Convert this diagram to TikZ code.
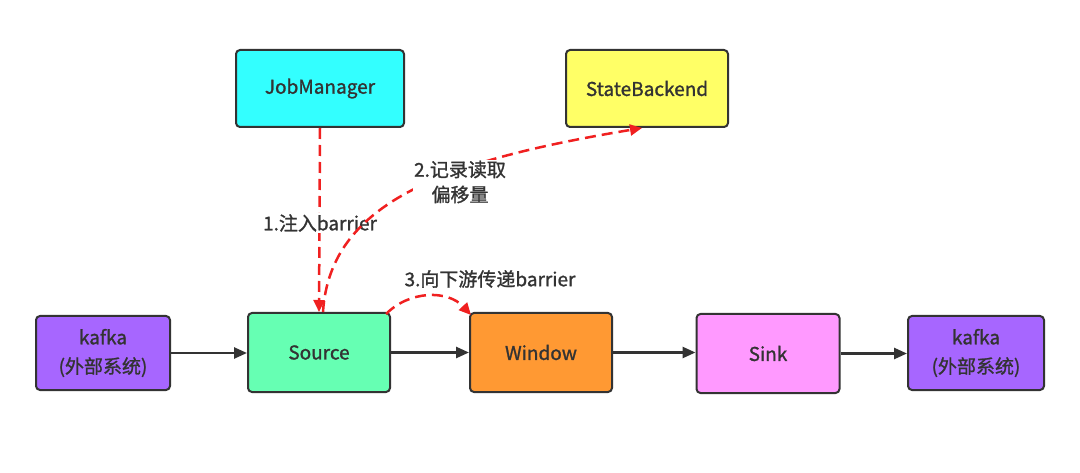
\documentclass[tikz,border=0pt]{standalone}
\usepackage{fontspec}
\setmainfont{Noto Sans CJK SC}[FakeBold=1.2]
\usetikzlibrary{arrows.meta}
\definecolor{txt}{HTML}{333333}
\definecolor{cyanbox}{HTML}{33FFFF}
\definecolor{yellowbox}{HTML}{FFFF66}
\definecolor{purplebox}{HTML}{A766FF}
\definecolor{greenbox}{HTML}{66FFB3}
\definecolor{orangebox}{HTML}{FF9933}
\definecolor{pinkbox}{HTML}{FF99FF}
\definecolor{redline}{HTML}{F02020}
\tikzset{
  box/.style={draw=txt, line width=2pt, rounded corners=4pt, text=txt,
    font=\fontsize{19}{29}\selectfont, align=center, inner sep=0pt},
  flow/.style={draw=txt, line width=2.5pt, -{Triangle[length=13pt,width=11pt]}},
  redflow/.style={draw=redline, line width=2.5pt, dash pattern=on 11pt off 6pt,
    -{Triangle[length=12pt,width=11pt]}},
  lbl/.style={text=txt, font=\fontsize{19}{25}\selectfont, align=center, fill=white, inner sep=1pt}
}
\begin{document}
\begin{tikzpicture}[x=1pt,y=-1pt]
\useasboundingbox[fill=white] (0,0) rectangle (1080,473);
\node[box, fill=cyanbox, minimum width=168pt, minimum height=77pt] (jm) at (320,88.5) {JobManager};
\node[box, fill=yellowbox, minimum width=162pt, minimum height=77pt] (sb) at (647,88.5) {StateBackend};
\node[box, fill=purplebox, minimum width=134pt, minimum height=74pt] (k1) at (103,353) {kafka\\(外部系统)};
\node[box, fill=greenbox, minimum width=142pt, minimum height=79pt] (src) at (319,352.5) {Source};
\node[box, fill=orangebox, minimum width=142pt, minimum height=79pt] (win) at (541,352.5) {Window};
\node[box, fill=pinkbox, minimum width=143pt, minimum height=79pt] (sink) at (768,353.5) {Sink};
\node[box, fill=purplebox, minimum width=136pt, minimum height=74pt] (k2) at (976,353) {kafka\\(外部系统)};

\draw[flow] (k1.east) -- (src.west |- k1.east);
\draw[flow] (src.east) -- (win.west);
\draw[flow] (win.east) -- (sink.west |- win.east);
\draw[flow] (sink.east) -- (k2.west |- sink.east);

\draw[redflow] (jm.south) -- (src.north);
\node[lbl] (l1) at (320,223) {1.注入barrier};

\coordinate (s2) at (323,312);
\coordinate (e2) at (642,128);
\draw[redflow] (s2) .. controls (330,200) and (450,160) .. (e2);
\node[lbl] (l2) at (460,182) {2.记录读取\\偏移量};

\coordinate (s3) at (386,314);
\coordinate (e3) at (471,315);
\draw[redflow] (s3) .. controls (410,290) and (448,290) .. (e3);
\node[text=txt, font=\fontsize{19}{23}\selectfont] (l3) at (490,279) {3.向下游传递barrier};
\end{tikzpicture}
\end{document}
